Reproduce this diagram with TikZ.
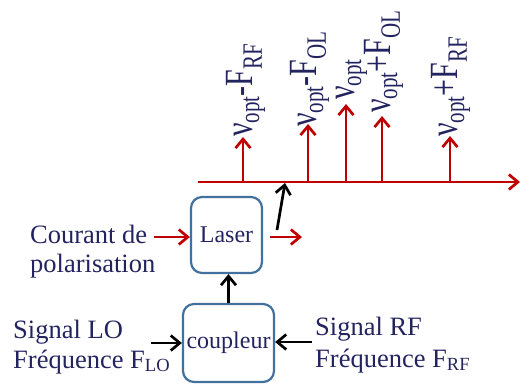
\documentclass[tikz,border=0pt]{standalone}
\usepackage{fontspec}
\usepackage{graphicx}
\setmainfont{Liberation Serif}
\newfontfamily\tnr{Liberation Serif}
\usetikzlibrary{arrows.meta}
\definecolor{navy}{HTML}{23235F}
\definecolor{boxblue}{HTML}{41719C}
\definecolor{darkred}{HTML}{C00000}
\begin{document}
\begin{tikzpicture}[x=1pt,y=-1pt,
 lbl/.style={anchor=base west, inner sep=0, text=navy, font=\tnr\fontsize{26.5}{30}\selectfont},
 blk/.style={draw=boxblue, line width=2.2pt, rounded corners=11pt, text=navy, font=\tnr\fontsize{24}{28}\selectfont, inner sep=0},
 spec/.style={rotate=90, anchor=base west, inner sep=0, text=navy, font=\tnr\fontsize{40}{44}\selectfont},
 rarr/.style={draw=darkred, line width=2.7pt, -{Straight Barb[length=9pt,width=15pt]}},
 barr/.style={draw=black, line width=2.7pt, -{Straight Barb[length=9pt,width=15pt]}},
]
\useasboundingbox (0,0) rectangle (521,383);

% blocks
\node[blk, minimum width=71pt, minimum height=76pt] (laser) at (226.5,235) {Laser};
\node[blk, minimum width=91pt, minimum height=78pt] (coupleur) at (228.5,343) {coupleur};

% texts
\node[lbl] (c1) at (30,243) {Courant de};
\node[lbl] (c2) at (30,272) {polarisation};
\node[lbl] (lo1) at (13,338) {Signal LO};
\node[lbl] (lo2) at (13,368) {Fréquence F\textsubscript{LO}};
\node[lbl] (rf1) at (315,335) {Signal RF};
\node[lbl] (rf2) at (315,367) {Fréquence F\textsubscript{RF}};

% axis
\coordinate (ax0) at (198,182);
\coordinate (ax1) at (520,182);
\draw[rarr] (ax0) -- (ax1);

% spikes
\coordinate (s1) at (243,182); \coordinate (t1) at (243,137);
\coordinate (s2) at (308,182); \coordinate (t2) at (308,124);
\coordinate (s3) at (346,182); \coordinate (t3) at (346,104);
\coordinate (s4) at (382,182); \coordinate (t4) at (382,116);
\coordinate (s5) at (450,182); \coordinate (t5) at (450,136);
\foreach \i in {1,...,5} \draw[rarr] (s\i) -- (t\i);

% spectral labels
\node[spec] (l1) at (252,137) {\scalebox{0.75}[1]{ν\textsubscript{opt}-F\textsubscript{RF}}};
\node[spec] (l2) at (316,127) {\scalebox{0.75}[1]{ν\textsubscript{opt}-F\textsubscript{OL}}};
\node[spec] (l3) at (354,100) {\scalebox{0.75}[1]{ν\textsubscript{opt}}};
\node[spec] (l4) at (390,113) {\scalebox{0.75}[1]{ν\textsubscript{opt}+F\textsubscript{OL}}};
\node[spec] (l5) at (457,137) {\scalebox{0.75}[1]{ν\textsubscript{opt}+F\textsubscript{RF}}};

% arrows
\coordinate (cin) at (154,237);
\draw[rarr] (cin) -- (cin -| laser.west);
\coordinate (lout0) at (270,237);
\coordinate (lout1) at (302,237);
\draw[rarr] (lout0) -- (lout1);
\coordinate (b0) at (277,230);
\coordinate (b1) at (285,183);
\draw[barr] (b0) -- (b1);
\draw[barr] (coupleur.north) -- (coupleur.north |- laser.south);
\coordinate (loin) at (151,343);
\draw[barr] (loin) -- (loin -| coupleur.west);
\coordinate (rfin) at (312,342);
\draw[barr] (rfin) -- (rfin -| coupleur.east);
\end{tikzpicture}
\end{document}
